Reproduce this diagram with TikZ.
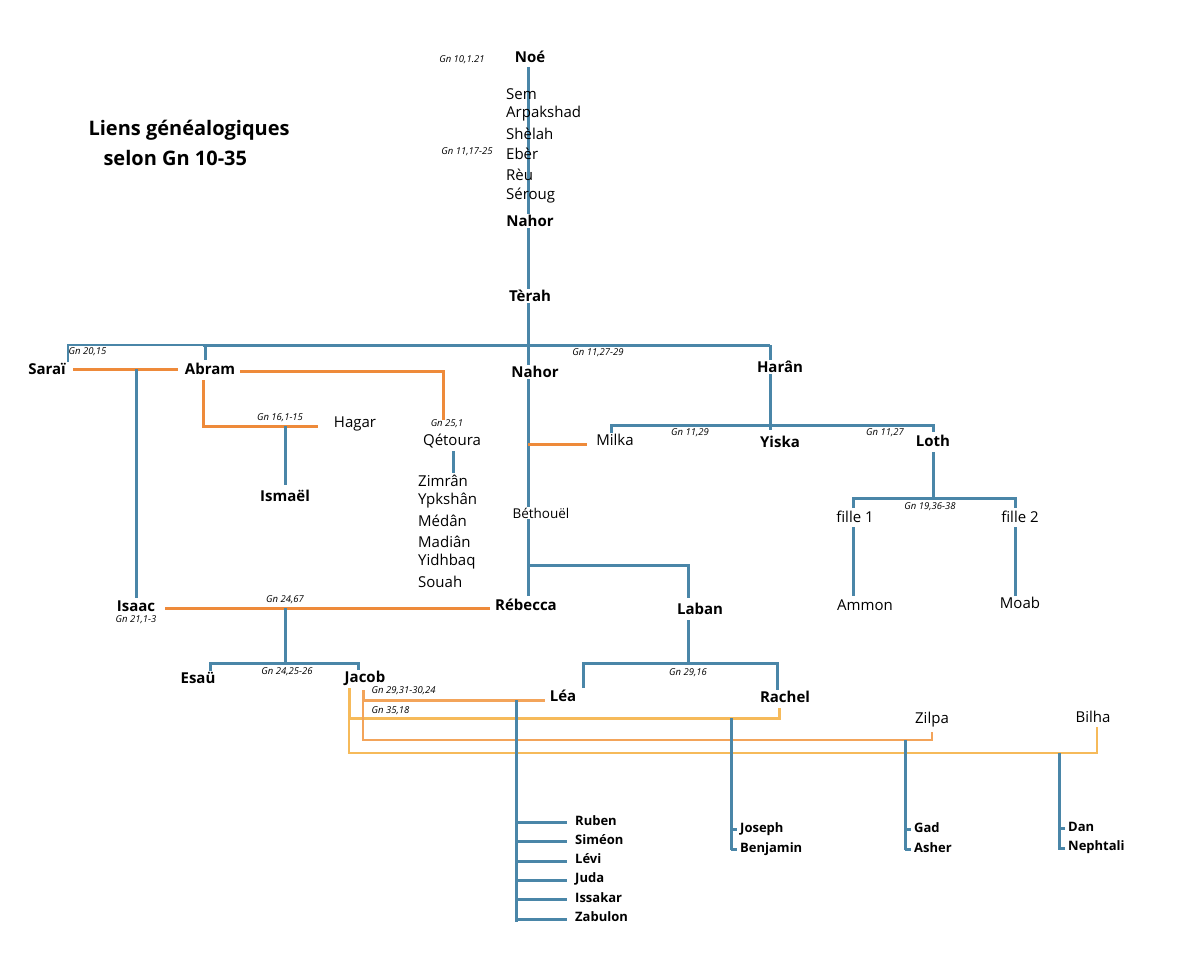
\documentclass[tikz,border=0pt]{standalone}
\usepackage{fontspec}
\setmainfont{Open Sans}
\begin{document}
\begin{tikzpicture}[x=1pt,y=-1pt,
  bl/.style={draw=blue1,line width=3pt},
  thin/.style={draw=blue1,line width=1.5pt},
  org/.style={draw=or1,line width=3pt},
  lo/.style={draw=or2,line width=3pt},
  n/.style={font=\fontsize{15}{15}\selectfont\bfseries,inner sep=1pt,fill=white},
  m/.style={font=\fontsize{15}{15}\selectfont,inner sep=1pt,fill=white},
  s/.style={font=\fontsize{13}{13}\selectfont\bfseries,inner sep=1pt,anchor=west},
  g/.style={font=\fontsize{9.5}{10}\selectfont\itshape,inner sep=0.5pt}]
\definecolor{blue1}{HTML}{4A86A8}
\definecolor{or1}{HTML}{EE8A3A}
\definecolor{or2}{HTML}{F6BA5A}
\definecolor{or3}{HTML}{F3A45A}
\useasboundingbox (0,0) rectangle (1200,979);
% lines
\draw[bl] (528,67) -- (528,345);
\draw[thin] (68,362) -- (68,345) -- (203,345);
\draw[bl] (203,345) -- (770,345);
\draw[bl] (205,345) -- (205,360);
\draw[bl] (528,345) -- (528,596);
\draw[bl] (770,345) -- (770,430);
\draw[org] (73,369) -- (178,369);
\draw[bl] (136,369) -- (136,598);
\draw[org] (240,371) -- (443,371) -- (443,420);
\draw[org] (203,380) -- (203,426) -- (318,426);
\draw[bl] (285,426) -- (285,485);
\draw[bl] (453,451) -- (453,473);
\draw[org] (528,444) -- (587,444);
\draw[bl] (611,435) -- (611,425) -- (933,425) -- (933,432);
\draw[bl] (933,452) -- (933,498);
\draw[bl] (853,508) -- (853,498) -- (1015,498) -- (1015,508);
\draw[bl] (853,527) -- (853,596);
\draw[bl] (1015,527) -- (1015,596);
\draw[bl] (528,565) -- (688,565) -- (688,598);
\draw[org] (165,608) -- (490,608);
\draw[bl] (285,608) -- (285,663);
\draw[bl] (210,676) -- (210,663) -- (358,663) -- (358,672);
\draw[bl] (688,620) -- (688,663);
\draw[bl] (583,688) -- (583,663) -- (777,663) -- (777,690);
\draw[draw=or3,line width=3pt] (363,690) -- (363,700) -- (545,700);
\draw[lo] (349,688) -- (349,718) -- (779,718) -- (779,708);
\draw[draw=or3,line width=1.5pt] (363,700) -- (363,740) -- (932,740) -- (932,732);
\draw[draw=or2,line width=1.5pt] (349,718) -- (349,753) -- (1097,753) -- (1097,727);
\draw[bl] (516,700) -- (516,922);
\foreach \y in {822,841,861,880,899,919} \draw[bl] (516,\y) -- (567,\y);
\draw[bl] (731,718) -- (731,850);
\draw[bl] (731,829) -- (737,829) (731,849) -- (737,849);
\draw[bl] (905,740) -- (905,850);
\draw[bl] (905,829) -- (911,829) (905,849) -- (911,849);
\draw[bl] (1059,753) -- (1059,850);
\draw[bl] (1059,828) -- (1065,828) (1059,848) -- (1065,848);
% title
\node[font=\fontsize{20}{20}\selectfont\bfseries,anchor=west] (t1) at (85,130) {Liens généalogiques};
\node[font=\fontsize{20}{20}\selectfont\bfseries,anchor=west] (t2) at (100,158) {selon Gn 10-35};
% top line
\node[n] (noe) at (530,57) {Noé};
\node[g] (g1) at (462,60) {Gn 10,1.21};
\foreach \t/\y [count=\i] in {Sem/94,Arpakshad/114,Shèlah/134,Ebèr/154,Rèu/175,Séroug/196}
  \node[m,anchor=west,fill=none] (a\i) at (505,\y) {\t};
\node[g] (g2) at (467,152) {Gn 11,17-25};
\node[n] (nahor0) at (530,221) {Nahor};
\node[n] (terah) at (530,296) {Tèrah};
\node[g,anchor=west] (g3) at (68,352) {Gn 20,15};
\node[n] (sarai) at (47,369) {Saraï};
\node[n] (abram) at (210,369) {Abram};
\node[n] (nahor) at (535,372) {Nahor};
\node[n] (haran) at (780,367) {Harân};
\node[g] (g4) at (598,353) {Gn 11,27-29};
\node[g] (g5) at (280,418) {Gn 16,1-15};
\node[m] (hagar) at (355,424) {Hagar};
\node[n] (ismael) at (285,496) {Ismaël};
\node[g] (g6) at (447,424) {Gn 25,1};
\node[m] (qetoura) at (452,441) {Qétoura};
\foreach \t/\y [count=\i] in {Zimrân/481,Ypkshân/501,Médân/521,Madiân/542,Yidhbaq/562,Souah/582}
  \node[m,anchor=west] (q\i) at (417,\y) {\t};
\node[m] (milka) at (615,440) {Milka};
\node[g] (g7) at (690,433) {Gn 11,29};
\node[n] (yiska) at (780,442) {Yiska};
\node[g] (g8) at (885,433) {Gn 11,27};
\node[n] (loth) at (933,441) {Loth};
\node[m,font=\fontsize{13.5}{14}\selectfont] (beth) at (541,513) {Béthouël};
\node[g] (g9) at (930,507) {Gn 19,36-38};
\node[m] (f1) at (855,517) {fille 1};
\node[m] (f2) at (1020,517) {fille 2};
\node[m] (ammon) at (865,605) {Ammon};
\node[m] (moab) at (1020,603) {Moab};
\node[n] (isaac) at (136,606) {Isaac};
\node[g] (g10) at (136,620) {Gn 21,1-3};
\node[g] (g11) at (285,600) {Gn 24,67};
\node[n] (rebecca) at (526,605) {Rébecca};
\node[n] (laban) at (700,609) {Laban};
\node[n] (esau) at (198,678) {Esaü};
\node[g] (g12) at (287,672) {Gn 24,25-26};
\node[n] (jacob) at (365,678) {Jacob};
\node[g] (g13) at (688,673) {Gn 29,16};
\node[n] (lea) at (563,696) {Léa};
\node[n] (rachel) at (785,697) {Rachel};
\node[g,anchor=west] (g14) at (371,691) {Gn 29,31-30,24};
\node[g,anchor=west] (g15) at (371,711) {Gn 35,18};
\node[m] (zilpa) at (932,720) {Zilpa};
\node[m] (bilha) at (1093,717) {Bilha};
\foreach \t/\y [count=\i] in {Ruben/821,Siméon/840,Lévi/859,Juda/879,Issakar/898,Zabulon/917}
  \node[s] (l\i) at (574,\y) {\t};
\node[s] (joseph) at (739,829) {Joseph};
\node[s] (benjamin) at (739,849) {Benjamin};
\node[s] (gad) at (913,828) {Gad};
\node[s] (asher) at (913,848) {Asher};
\node[s] (dan) at (1067,827) {Dan};
\node[s] (neph) at (1067,847) {Nephtali};
\end{tikzpicture}
\end{document}
